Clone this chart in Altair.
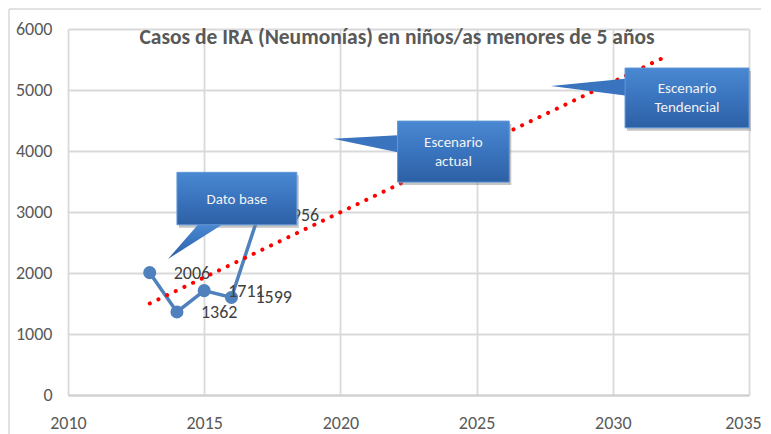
import altair as alt
import pandas as pd

# ---- data ----
years = [2013, 2014, 2015, 2016, 2017]
cases = [2006, 1362, 1711, 1599, 2956]

trend_years = [2013, 2032]
trend_vals = [1500, 5560]

# callouts (data coordinates)
box_names = ["Dato base", "Escenario actual", "Escenario Tendencial"]
box_text = ["Dato base", "Escenario\nactual", "Escenario\nTendencial"]
box_lines = [1, 2, 2]
box_x1 = [2014.0, 2022.1, 2030.45]
box_x2 = [2018.4, 2026.2, 2035.0]
box_y1 = [2790, 3490, 4380]
box_y2 = [3650, 4490, 5360]
tip_x = [2013.67, 2019.73, 2027.73]
tip_y = [2230, 4200, 5065]

FONT = "Carlito, Lato, Open Sans, sans-serif"

df = pd.DataFrame({"year": years, "cases": cases})
tdf = pd.DataFrame({"year": trend_years, "val": trend_vals})
boxes = pd.DataFrame({
    "name": box_names, "text": box_text, "lines": box_lines,
    "x1": box_x1, "x2": box_x2, "y1": box_y1, "y2": box_y2,
})
boxes["cx"] = (boxes["x1"] + boxes["x2"]) / 2
boxes["cy"] = (boxes["y1"] + boxes["y2"]) / 2

# side pointers (to left edge of box)
side_rows = []
for i in (1, 2):
    side_rows.append({"id": box_names[i], "x": tip_x[i], "y": tip_y[i], "y2": tip_y[i]})
    h = box_y2[i] - box_y1[i]
    ymid = box_y1[i] + h * (0.63 if i == 1 else 0.68)
    side_rows.append({"id": box_names[i], "x": box_x1[i], "y": ymid - h * 0.14, "y2": ymid + h * 0.14})
side = pd.DataFrame(side_rows)

# bottom pointer for "Dato base"
bottom = pd.DataFrame([
    {"y": tip_y[0], "x": tip_x[0], "x2": tip_x[0]},
    {"y": box_y1[0], "x": 2014.77, "x2": 2015.65},
])

xs = alt.Scale(domain=[2010, 2035], nice=False)
ys = alt.Scale(domain=[0, 6000], nice=False)

xax = alt.Axis(values=[2010, 2015, 2020, 2025, 2030, 2035], format="d", title=None,
               grid=True, gridColor="#D9D9D9", gridWidth=1.8, domain=True,
               domainColor="#D0D0D0", domainWidth=1.8, ticks=False, labelFlush=False,
               labelOverlap=False, labelBound=False,
               labelOffset={"condition": {"test": "datum.value == 2035", "value": -6}, "value": 0},
               labelPadding=19, labelFont=FONT, labelFontSize=18, labelColor="#595959")
yax = alt.Axis(values=[0, 1000, 2000, 3000, 4000, 5000, 6000], format="d", title=None,
               grid=True, gridColor="#D9D9D9", gridWidth=1.8, domain=False, ticks=False,
               labelFlush=False, labelOverlap=False,
               labelPadding=16, labelFont=FONT, labelFontSize=18, labelColor="#595959")

base = alt.Chart(df)

line = base.mark_line(color="#4F81BD", strokeWidth=3.5).encode(
    x=alt.X("year:Q", scale=xs, axis=xax),
    y=alt.Y("cases:Q", scale=ys, axis=yax),
)
pts = base.mark_circle(color="#4F81BD", size=170, opacity=1).encode(
    x=alt.X("year:Q", scale=xs), y=alt.Y("cases:Q", scale=ys))
lbl = base.mark_text(align="left", baseline="middle", dx=24, dy=1, font=FONT,
                     fontSize=18, color="#404040").encode(
    x=alt.X("year:Q", scale=xs), y=alt.Y("cases:Q", scale=ys), text="cases:Q")

trend = alt.Chart(tdf).mark_line(color="#FF0000", strokeWidth=4, strokeCap="round",
                                 strokeDash=[0.1, 9.5]).encode(
    x=alt.X("year:Q", scale=xs), y=alt.Y("val:Q", scale=ys))

grad = alt.LinearGradient(gradient="linear", x1=0, x2=0, y1=0, y2=1,
                          stops=[alt.GradientStop(color="#4A88D2", offset=0),
                                 alt.GradientStop(color="#3A74BE", offset=0.5),
                                 alt.GradientStop(color="#2D60A5", offset=1)])

shadow = alt.Chart(boxes).mark_rect(color="#7F7F7F", opacity=0.45, xOffset=2, yOffset=3,
                                    x2Offset=2, y2Offset=3).encode(
    x=alt.X("x1:Q", scale=xs), x2="x2:Q", y=alt.Y("y1:Q", scale=ys), y2="y2:Q")

side_ptr = alt.Chart(side).mark_area(color="#3A74BE", orient="vertical").encode(
    x=alt.X("x:Q", scale=xs), y=alt.Y("y:Q", scale=ys), y2="y2:Q", detail="id:N")

bottom_ptr = alt.Chart(bottom).mark_area(color=grad, orient="horizontal").encode(
    y=alt.Y("y:Q", scale=ys), x=alt.X("x:Q", scale=xs), x2="x2:Q")

rects = alt.Chart(boxes).mark_rect(color=grad, stroke="#5E96D8", strokeWidth=1).encode(
    x=alt.X("x1:Q", scale=xs), x2="x2:Q", y=alt.Y("y1:Q", scale=ys), y2="y2:Q")

btext1 = alt.Chart(boxes).transform_filter("datum.lines == 1").mark_text(
    color="#F2F2F2", font=FONT, fontSize=15, baseline="middle").encode(
    x=alt.X("cx:Q", scale=xs), y=alt.Y("cy:Q", scale=ys), text="text:N")
btext2 = alt.Chart(boxes).transform_filter("datum.lines == 2").mark_text(
    color="#F2F2F2", font=FONT, fontSize=15, lineBreak="\n", lineHeight=19,
    baseline="middle", dy=-9.5).encode(
    x=alt.X("cx:Q", scale=xs), y=alt.Y("cy:Q", scale=ys), text="text:N")

title = alt.Chart(pd.DataFrame({"t": ["Casos  de IRA (Neumonías) en niños/as menores de 5 años"]})).mark_text(
    font=FONT, fontSize=21.5, fontWeight="bold", color="#595959", baseline="middle").encode(
    x=alt.value(329), y=alt.value(9), text="t:N")

frame_l = alt.Chart(pd.DataFrame({"a": [0]})).mark_rule(color="#D9D9D9", strokeWidth=1.5).encode(
    x=alt.value(-59), y=alt.value(-20), y2=alt.value(430))
frame_t = alt.Chart(pd.DataFrame({"a": [0]})).mark_rule(color="#D9D9D9", strokeWidth=1.5).encode(
    x=alt.value(-59), x2=alt.value(720), y=alt.value(-20))

chart = alt.layer(frame_l, frame_t, line, pts, lbl, trend, shadow, side_ptr, bottom_ptr,
                  rects, btext1, btext2, title).properties(
    width=681, height=366,
    autosize=alt.AutoSizeParams(type="none"),
    padding={"left": 60, "top": 21, "right": 12, "bottom": 42},
    background="white",
).configure_view(stroke=None)

chart.save("out.html", embed_options={"renderer": "svg", "actions": False})
